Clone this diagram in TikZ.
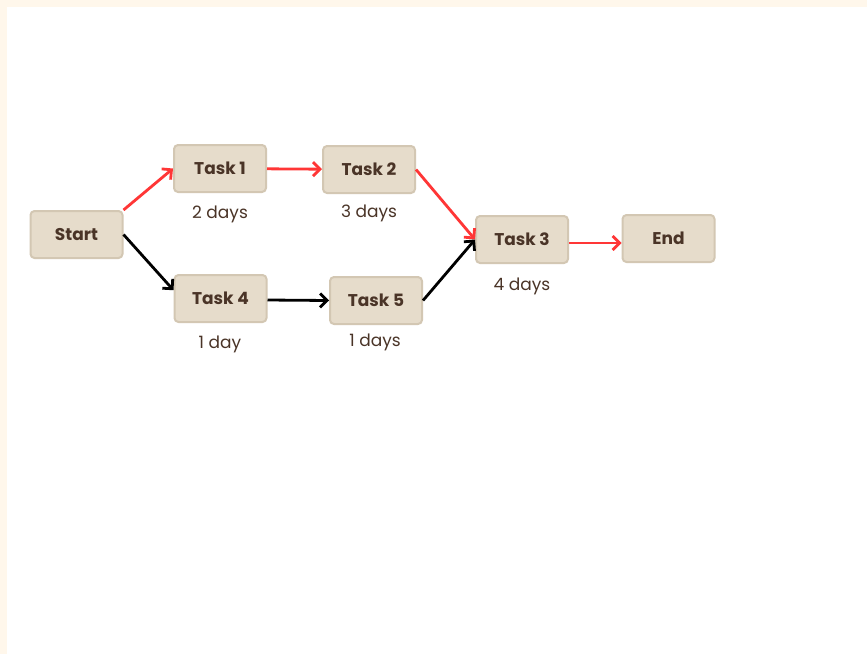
\documentclass[tikz,border=0pt]{standalone}
\usepackage{fontspec}
\setmainfont{Poppins}
\usetikzlibrary{arrows.meta}
\definecolor{cream}{HTML}{FFF7EB}
\definecolor{boxfill}{HTML}{E6DCCB}
\definecolor{boxline}{HTML}{D3C7B3}
\definecolor{ink}{HTML}{4A3427}
\definecolor{critred}{HTML}{FF3636}
\begin{document}
\begin{tikzpicture}[x=1pt, y=-1pt,
  task/.style={shape=rectangle, rounded corners=4pt, fill=boxfill, draw=boxline, line width=2pt,
    minimum width=92pt, minimum height=47pt, text=ink, font=\fontsize{17}{20}\selectfont\bfseries},
  dur/.style={text=ink, font=\fontsize{17}{20}\selectfont},
  link/.style={-{Straight Barb[length=7pt, width=14pt, line width=2.8pt]}, line width=2.8pt}]
% page with its cream margin
\fill[cream] (0,0) rectangle (867,654);
\fill[white] (7,7) rectangle (867,654);
\useasboundingbox (0,0) rectangle (867,654);
\node[task] (start) at (76.5,234.5) {Start};
\node[task] (t1) at (220,168.5) {Task 1};
\node[task] (t2) at (369,169.5) {Task 2};
\node[task] (t4) at (220.5,298.5) {Task 4};
\node[task] (t5) at (376,300.5) {Task 5};
\node[task] (t3) at (522,239.5) {Task 3};
\node[task] (end) at (668.5,238.5) {End};
\node[dur] (d1) at (220,214) {2 days};
\node[dur] (d2) at (369,213) {3 days};
\node[dur] (d4) at (220,344) {1 day};
\node[dur] (d5) at (375,342) {1 days};
\node[dur] (d3) at (522,286) {4 days};
\draw [link, critred] (start.north east) -- (t1.west);
\draw [link, black] (start.east) -- (t4.170);
\draw [link, critred] (t1) -- (t2);
\draw [link, black] ([yshift=-1.5pt]t4.east) -- (t5.west);
\draw [link, critred] (t2.east) -- (t3.west);
\draw [link, black] (t5.east) -- (t3.west);
\draw [link, critred] ([yshift=-3.5pt]t3.east) -- ([yshift=-4.5pt]end.west);
\end{tikzpicture}
\end{document}
